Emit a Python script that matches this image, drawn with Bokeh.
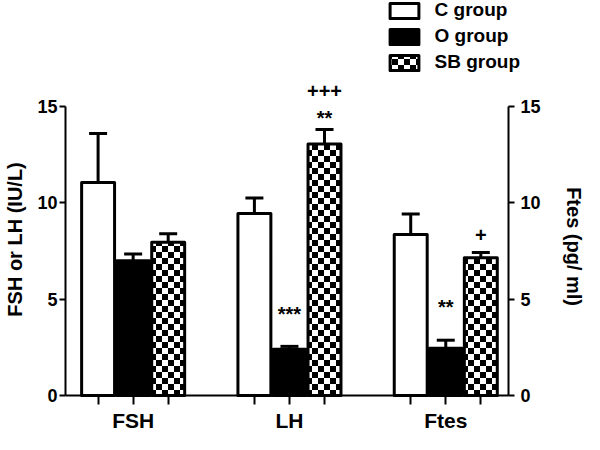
import struct, zlib, base64, math
from bokeh.plotting import figure
from bokeh.models import (ColumnDataSource, Range1d, LinearAxis, FixedTicker, Whisker, TeeHead,
                          Legend, LegendItem, LabelSet, Label, ImageURLTexture)
from bokeh.core.properties import value
from bokeh.embed import file_html
from bokeh.resources import INLINE

# ---------------- data ----------------
categories = ["FSH", "LH", "Ftes"]
groups = ["C group", "O group", "SB group"]
c_mean = [11.05, 9.45, 8.35]
c_sem = [2.55, 0.80, 1.07]
o_mean = [7.00, 2.40, 2.45]
o_sem = [0.35, 0.15, 0.42]
sb_mean = [7.95, 13.05, 7.15]
sb_sem = [0.45, 0.75, 0.27]
y_ticks = [0, 5, 10, 15]
# significance marks: (category index, group index, text, level in axis units)
sig_cat = [1, 2, 1, 1, 2]
sig_grp = [1, 1, 2, 2, 2]
sig_text = ["***", "**", "**", "+++", "+"]
sig_level = [4.25, 4.6, 14.4, 15.8, 8.35]

# ---------------- layout ----------------
W, H = 584, 434
AX_L, AX_R = 65, 508          # pixel x of left / right axis
Y0_PX, Y15_PX = 395, 106      # pixel y of 0 and 15
GROUP_STEP = 4.46
X0, X1 = -1.93, 10.71         # data x of left / right axis
ppx = (AX_R - AX_L) / (X1 - X0)
ppy = (Y0_PX - Y15_PX) / 15.0
x_start = X0 - AX_L / ppx
x_end = X1 + (W - AX_R) / ppx
y_start = -(H - Y0_PX) / ppy
y_end = 15 + Y15_PX / ppy

def bar_x(ci, gi):
    return ci * GROUP_STEP + (gi - 1)

FONT = "Liberation Sans"

def checker_png(cell=6):
    n = cell * 2
    rows = []
    for yy in range(n):
        row = bytearray([0])
        for xx in range(n):
            row.append(0 if ((xx // cell) + (yy // cell)) % 2 == 0 else 255)
        rows.append(bytes(row))
    raw = b"".join(rows)
    def chunk(t, d):
        c = struct.pack(">I", len(d)) + t + d
        return c + struct.pack(">I", zlib.crc32(t + d) & 0xffffffff)
    png = (b"\x89PNG\r\n\x1a\n" + chunk(b"IHDR", struct.pack(">IIBBBBB", n, n, 8, 0, 0, 0, 0))
           + chunk(b"IDAT", zlib.compress(raw)) + chunk(b"IEND", b""))
    return "data:image/png;base64," + base64.b64encode(png).decode()

checker = ImageURLTexture(url=checker_png(6), repetition="repeat")

p = figure(width=W, height=H, output_backend="svg", toolbar_location=None,
           x_range=Range1d(x_start, x_end), y_range=Range1d(y_start, y_end),
           min_border_left=0, min_border_right=0, min_border_top=0, min_border_bottom=0)
p.outline_line_color = None
p.xgrid.visible = False
p.ygrid.visible = False
p.extra_y_ranges = {"r": Range1d(y_start, y_end)}

series = [(c_mean, c_sem, dict(fill_color="white")),
          (o_mean, o_sem, dict(fill_color="black")),
          (sb_mean, sb_sem, dict(fill_color="white", hatch_pattern=value("checker"),
                                 hatch_extra={"checker": checker}))]
renderers = []
for gi, (mean, sem, style) in enumerate(series):
    xs = [bar_x(ci, gi) for ci in range(len(categories))]
    src = ColumnDataSource(dict(x=xs, top=mean, upper=[m + s for m, s in zip(mean, sem)]))
    w = Whisker(source=src, base="x", lower="top", upper="upper", line_width=3, line_color="black",
                upper_head=TeeHead(size=18, line_width=3, line_color="black"), lower_head=None)
    p.add_layout(w)
    r = p.vbar(x="x", top="top", width=0.94, bottom=0, source=src, line_color="black",
               line_width=3, line_join="round", **style)
    renderers.append(r)

# axes
xa = p.xaxis[0]
xa.fixed_location = 0
xa.bounds = (X0, X1)
xa.ticker = FixedTicker(ticks=[bar_x(ci, gi) for ci in range(3) for gi in range(3)])
xa.major_label_text_font_size = "0px"
xa.major_label_text_alpha = 0
xa.major_tick_out = 9
xa.major_tick_in = 0
xa.minor_tick_out = 0
xa.axis_line_width = 2
xa.major_tick_line_width = 2

ya = p.yaxis[0]
ya.fixed_location = X0
ra = LinearAxis(y_range_name="r", fixed_location=X1)
p.add_layout(ra, "right")
for ax, so in ((ya, 2), (ra, 6)):
    ax.bounds = (0, 15)
    ax.ticker = FixedTicker(ticks=y_ticks)
    ax.major_tick_out = 6
    ax.major_tick_in = 0
    ax.minor_tick_out = 0
    ax.minor_tick_in = 0
    ax.axis_line_width = 2
    ax.major_tick_line_width = 2
    ax.major_label_standoff = so
    ax.major_label_text_font = FONT
    ax.major_label_text_font_style = "bold"
    ax.major_label_text_font_size = "18px"
    ax.major_label_text_color = "black"

# category labels
cat_src = ColumnDataSource(dict(x=[bar_x(ci, 1) for ci in range(3)], y=[-1.3] * 3, t=categories))
p.add_layout(LabelSet(source=cat_src, x="x", y="y", text="t", text_align="center",
                      text_baseline="middle", text_font=value(FONT), text_font_style="bold",
                      text_font_size="21px", text_color="black"))

# significance labels
sig_src = ColumnDataSource(dict(x=[bar_x(c, g) for c, g in zip(sig_cat, sig_grp)], y=sig_level, t=sig_text))
p.add_layout(LabelSet(source=sig_src, x="x", y="y", text="t", text_align="center",
                      text_baseline="middle", text_font=value(FONT), text_font_style="bold",
                      text_font_size="20px", text_color="black"))

# axis titles
p.add_layout(Label(x=X0 - 50.5 / ppx, y=8.1, text="FSH or LH (IU/L)", angle=math.pi / 2,
                   text_align="center", text_baseline="middle", text_font=FONT,
                   text_font_style="bold", text_font_size="20px", text_color="black"))
p.add_layout(Label(x=X1 + 65 / ppx, y=7.73, text="Ftes (pg/ ml)", angle=-math.pi / 2,
                   text_align="center", text_baseline="middle", text_font=FONT,
                   text_font_style="bold", text_font_size="20px", text_color="black"))

leg_x = AX_L + (7.216 - X0) * ppx
leg_bottom = Y0_PX - 16.69 * ppy
legend = Legend(items=[LegendItem(label=g, renderers=[r]) for g, r in zip(groups, renderers)],
                location=(leg_x, H - leg_bottom), glyph_width=36, glyph_height=19, spacing=4,
                label_height=20, label_standoff=13, padding=0, margin=0, border_line_color=None,
                background_fill_alpha=0, label_text_font=FONT, label_text_font_style="bold",
                label_text_font_size="19px", label_text_color="black")
p.add_layout(legend)

open("out.html", "w").write(file_html(p, INLINE))
